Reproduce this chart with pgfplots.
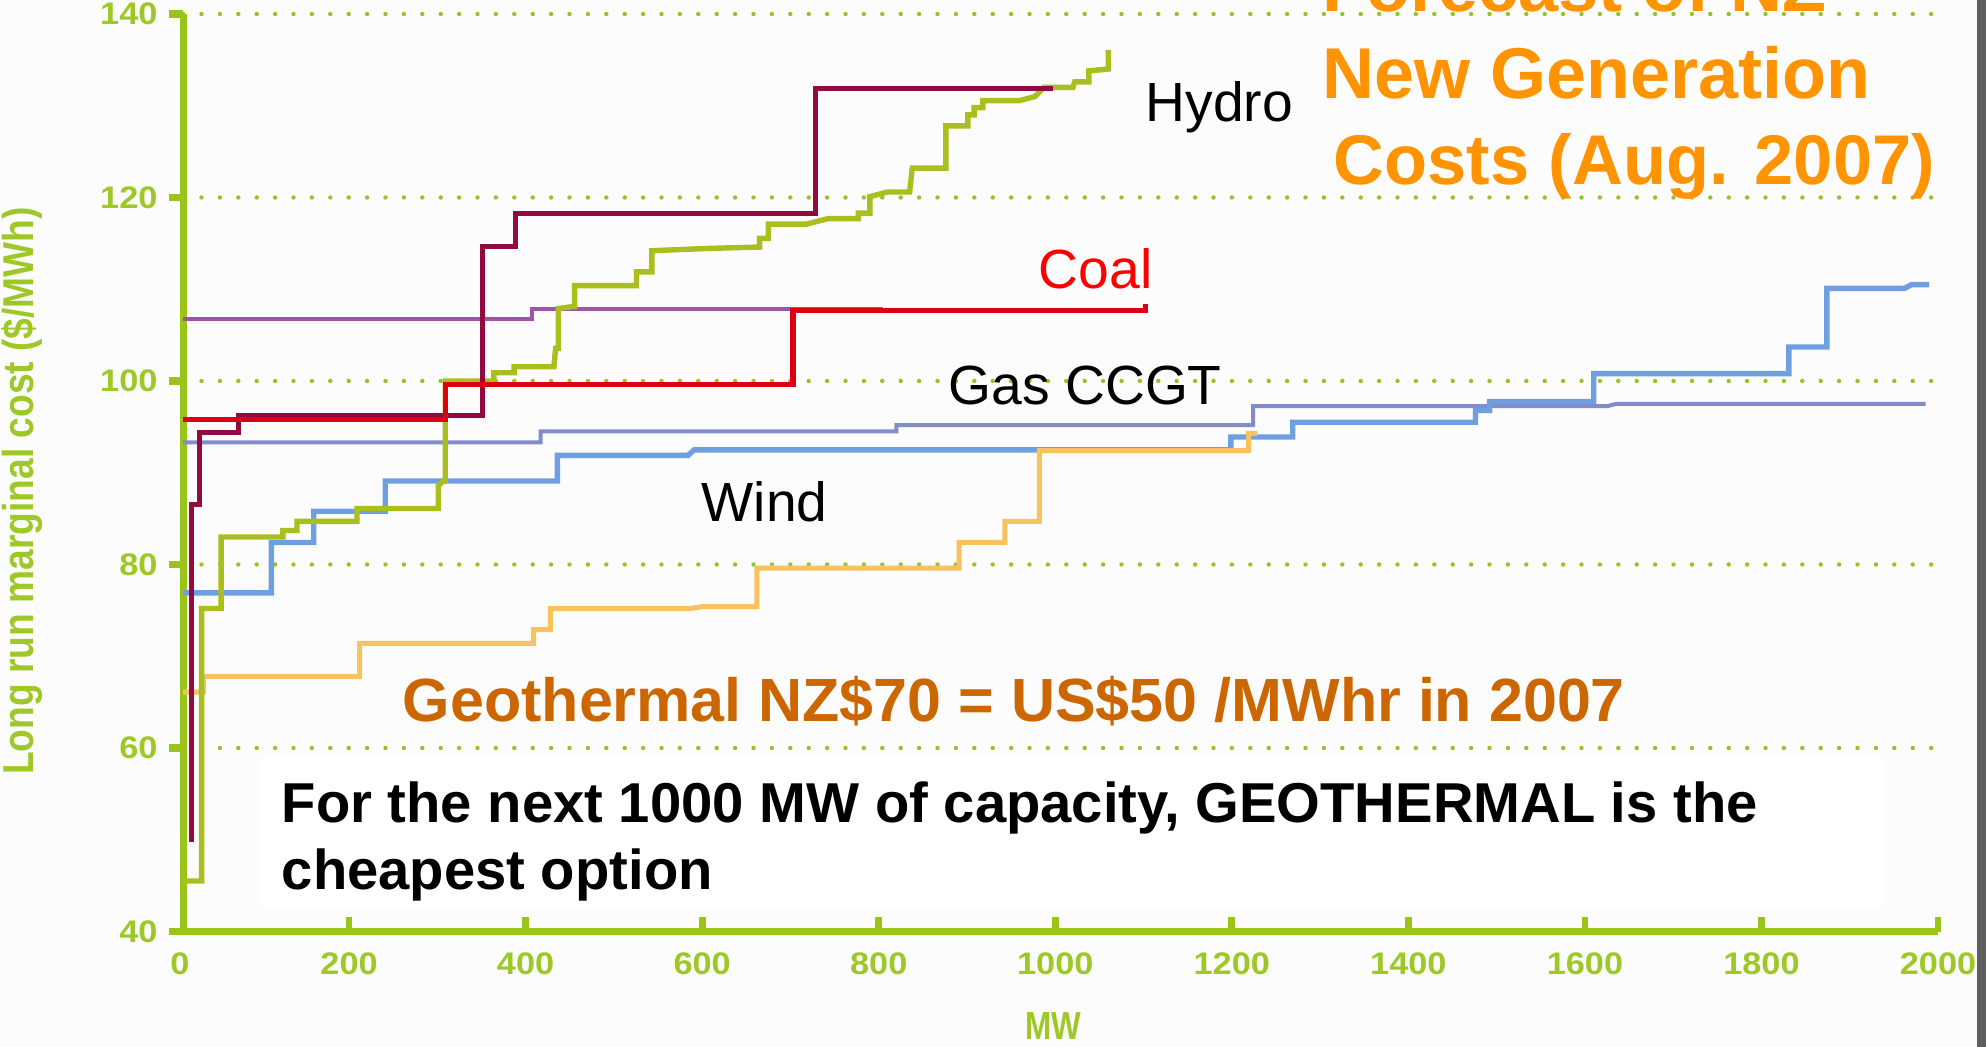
\documentclass[border=0pt]{standalone}
\usepackage{pgfplots}
\pgfplotsset{compat=1.18}
\usepackage{fontspec}
\setmainfont{Liberation Sans}
\newfontfamily\ylabfont[FakeStretch=0.86]{Liberation Sans}
\newfontfamily\mwfont[FakeStretch=0.8]{Liberation Sans}
\newfontfamily\tickfont[FakeStretch=1.1]{Liberation Sans}
\definecolor{axisgreen}{RGB}{155,196,26}
\definecolor{gridgreen}{RGB}{150,195,40}
\definecolor{labgreen}{RGB}{158,200,40}
\definecolor{hydromaroon}{RGB}{145,10,65}
\definecolor{coalred}{RGB}{220,0,20}
\definecolor{mauve}{RGB}{160,85,160}
\definecolor{gasblue}{RGB}{130,140,200}
\definecolor{windblue}{RGB}{110,160,225}
\definecolor{geoorange}{RGB}{248,195,95}
\definecolor{olivegreen}{RGB}{170,190,30}
\definecolor{titleorange}{RGB}{255,148,0}
\definecolor{geotext}{RGB}{204,102,0}
\definecolor{bgwhite}{RGB}{252,252,252}
\definecolor{graybar}{RGB}{95,95,95}
\begin{document}
\begin{tikzpicture}
\useasboundingbox (0,0) rectangle (496.5bp,261.75bp);
\clip (0,0) rectangle (496.5bp,261.75bp);
\fill[bgwhite] (0,0) rectangle (496.5bp,261.75bp);
\fill[graybar] (494.25bp,0) rectangle (496.5bp,261.75bp);
\fill[white] (65bp,34.75bp) rectangle (470.75bp,72.5bp);
\begin{axis}[
  at={(45.775bp,28.875bp)}, anchor=south west,
  width=438.73bp, height=229.375bp, scale only axis,
  xmin=12, xmax=2000, ymin=40, ymax=140,
  axis x line*=bottom, axis y line*=left,
  axis line style={draw=axisgreen, line width=1.75bp},
  xtick={200,400,...,2000}, ytick={40,60,...,140},
  tick align=inside,
  major tick length=3.6bp,
  xtick style={draw=axisgreen, line width=1.7bp},
  ytick style={draw=axisgreen, line width=1.8bp, xshift=-3.6bp},
  ymajorgrids,
  major grid style={draw=gridgreen, line width=1.1bp, line cap=round, dash pattern=on 0pt off 4.6bp},
  /pgf/number format/assume math mode=true,
  /pgf/number format/1000 sep={},
  scaled ticks=false,
  xticklabel style={font=\tickfont\bfseries\fontsize{7.8bp}{8bp}\selectfont, text=labgreen, inner sep=0pt, anchor=center, yshift=-8.1bp},
  yticklabel style={font=\tickfont\bfseries\fontsize{7.8bp}{8bp}\selectfont, text=labgreen, inner sep=0pt, anchor=east, xshift=-6.2bp},
  every axis plot/.append style={mark=none},
]
% Mauve
\addplot[mauve, line width=1bp] coordinates {(12,106.8) (407,106.8) (407,107.9) (805,107.9)};
% Gas CCGT
\addplot[gasblue, line width=1bp] coordinates {(12,93.3) (417,93.3) (417,94.5) (820,94.5) (820,95.2) (1224,95.2) (1224,97.25) (1625,97.25) (1635,97.5) (1986,97.5)};
% Wind
\addplot[windblue, line width=1.35bp] coordinates {(12,76.9) (112,76.9) (112,82.4) (160,82.4) (160,85.8) (241,85.8) (241,89.1) (436,89.1) (436,91.9) (584,91.9) (591,92.5) (1199,92.5) (1199,93.9) (1269,93.9) (1269,95.5) (1476,95.5) (1476,96.8) (1492,96.8) (1492,97.75) (1610,97.75) (1610,100.8) (1831,100.8) (1831,103.7) (1874,103.7) (1874,110.1) (1962,110.1) (1970,110.5) (1990,110.5)};
% Geothermal
\addplot[geoorange, line width=1.25bp] coordinates {(12,66.1) (35,66.1) (35,67.8) (212,67.8) (212,71.4) (409,71.4) (409,72.9) (428,72.9) (428,75.2) (586,75.2) (600,75.4) (662,75.4) (662,79.6) (891,79.6) (891,82.4) (943,82.4) (943,84.7) (982,84.7) (982,92.4) (1219,92.4) (1219,94.3) (1229,94.3)};
% Hydro (olive)
\addplot[olivegreen, line width=1.35bp] coordinates {(12,45.5) (33,45.5) (33,75.2) (55,75.2) (55,83.0) (125,83.0) (125,83.7) (141,83.7) (141,84.7) (209,84.7) (209,86.1) (301,86.1) (301,88.6) (307,89.1) (309,89.1) (309,100.0) (364,100.0) (364,100.9) (387,100.9) (387,101.55) (432,101.55) (434,103.55) (437,103.55) (437,107.9) (453,108.1) (455.5,108.1) (455.5,110.4) (525.6,110.4) (525.6,111.9) (543,111.9) (543,114.2) (607,114.45) (665,114.6) (665,115.55) (675,115.55) (675,117.1) (718,117.1) (743,117.7) (777,117.7) (777,118.3) (790,118.3) (790,120.1) (810,120.6) (835,120.6) (838,123.2) (876,123.2) (876,127.8) (901,127.8) (901,129.0) (908,129.0) (908,129.8) (918,129.8) (918,130.55) (959,130.55) (977,131.0) (987,132.0) (1020,132.0) (1022,132.6) (1038,132.6) (1038,133.8) (1060,134.0) (1060,136.1)};
% Maroon
\addplot[hydromaroon, line width=1.25bp] coordinates {(21,49.8) (21,86.5) (31,86.5) (31,94.4) (75,94.4) (75,96.2) (351,96.2) (351,114.7) (389,114.7) (389,118.3) (728,118.3) (728,131.9) (997,131.9)};
% Coal
\addplot[coalred, line width=1.35bp] coordinates {(12,95.8) (309,95.8) (309,99.6) (703,99.6) (703,107.7) (1102,107.7) (1102,108.4)};
\end{axis}
\begin{scope}[x=0.25bp,y=-0.25bp,yshift=261.75bp]
\node[anchor=base west, inner sep=0pt, text=titleorange, font=\bfseries\fontsize{18bp}{20bp}\selectfont] at (1322,11.7) {Forecast of NZ};
\node[anchor=base west, inner sep=0pt, text=titleorange, font=\bfseries\fontsize{18bp}{20bp}\selectfont] at (1322,99) {New Generation};
\node[anchor=base west, inner sep=0pt, text=titleorange, font=\bfseries\fontsize{17.6bp}{20bp}\selectfont] at (1333,185) {Costs (Aug. 2007)};
\node[anchor=base west, inner sep=0pt, font=\fontsize{13.8bp}{16bp}\selectfont] at (1145,121.7) {Hydro};
\node[anchor=base west, inner sep=0pt, text=red, font=\fontsize{13.8bp}{16bp}\selectfont] at (1038,288.3) {Coal};
\node[anchor=base west, inner sep=0pt, font=\fontsize{13.8bp}{16bp}\selectfont] at (948,405) {Gas CCGT};
\node[anchor=base west, inner sep=0pt, font=\fontsize{13.8bp}{16bp}\selectfont] at (701,521.7) {Wind};
\node[anchor=base west, inner sep=0pt, text=geotext, font=\bfseries\fontsize{15.25bp}{18bp}\selectfont] at (402,721.7) {Geothermal NZ\$70 = US\$50 /MWhr in 2007};
\node[anchor=base west, inner sep=0pt, font=\bfseries\fontsize{14.05bp}{16bp}\selectfont] at (281,822.7) {For the next 1000 MW of capacity, GEOTHERMAL is the};
\node[anchor=base west, inner sep=0pt, font=\bfseries\fontsize{14.05bp}{16bp}\selectfont] at (281,890) {cheapest option};
\node[anchor=center, inner sep=0pt, text=labgreen, font=\tickfont\bfseries\fontsize{7.8bp}{8bp}\selectfont] at (180,964) {0};
\node[anchor=center, inner sep=0pt, text=labgreen, font=\mwfont\bfseries\fontsize{9.8bp}{10bp}\selectfont] at (1053.5,1026) {MW};
\node[anchor=center, inner sep=0pt, rotate=90, text=labgreen, font=\ylabfont\bfseries\fontsize{10.8bp}{12bp}\selectfont] at (22.5,491) {Long run marginal cost (\$/MWh)};
\end{scope}
\end{tikzpicture}
\end{document}
